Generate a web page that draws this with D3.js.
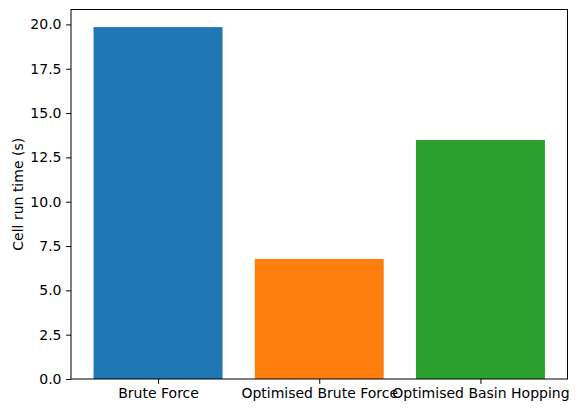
<!DOCTYPE html>
<html>
<head>
<meta charset="utf-8">
<script src="https://cdn.jsdelivr.net/npm/d3@7"></script>
<style>
  body { margin: 0; background: #fff; }
  svg text { font-family: "DejaVu Sans", sans-serif; fill: #000; }
</style>
</head>
<body>
<svg width="579" height="413"></svg>
<script>
// chart data
var categories = ["Brute Force", "Optimised Brute Force", "Optimised Basin Hopping"];
var runTimes = [19.85, 6.77, 13.48];
var barColours = ["#1f77b4", "#ff7f0e", "#2ca02c"];
var yTicks = [0, 2.5, 5, 7.5, 10, 12.5, 15, 17.5, 20];

var svg = d3.select("svg");
var plotLeft = 71, plotRight = 567.5, plotTop = 9.5, plotBottom = 379;
var fontSize = 14;

// matplotlib style margins: bars span -0.4..2.4, 5% padding
var x = d3.scaleLinear().domain([-0.54, 2.54]).range([plotLeft, plotRight]);
var y = d3.scaleLinear().domain([0, d3.max(runTimes) * 1.05]).range([plotBottom, plotTop]);

// bars
svg.append("g")
  .selectAll("rect")
  .data(runTimes)
  .enter().append("rect")
  .attr("x", (d, i) => x(i - 0.4))
  .attr("width", (d, i) => x(i + 0.4) - x(i - 0.4))
  .attr("y", d => y(d))
  .attr("height", d => y(0) - y(d))
  .attr("fill", (d, i) => barColours[i]);

// y axis
var yAxis = d3.axisLeft(y)
  .tickValues(yTicks)
  .tickFormat(d3.format(".1f"))
  .tickSize(4.9)
  .tickPadding(4.6);
var gy = svg.append("g")
  .attr("transform", "translate(" + plotLeft + ",0)")
  .call(yAxis);
gy.select(".domain").remove();
gy.selectAll("line").attr("stroke", "#000").attr("stroke-width", 1);
gy.selectAll("text").attr("font-size", fontSize).attr("font-family", "DejaVu Sans").attr("fill", "#000");

// x axis
var xAxis = d3.axisBottom(x)
  .tickValues([0, 1, 2])
  .tickFormat(i => categories[i])
  .tickSize(4.9)
  .tickPadding(4.6);
var gx = svg.append("g")
  .attr("transform", "translate(0," + plotBottom + ")")
  .call(xAxis);
gx.select(".domain").remove();
gx.selectAll("line").attr("stroke", "#000").attr("stroke-width", 1);
gx.selectAll("text").attr("font-size", fontSize).attr("font-family", "DejaVu Sans").attr("fill", "#000");

// frame
svg.append("rect")
  .attr("x", plotLeft)
  .attr("y", plotTop)
  .attr("width", plotRight - plotLeft)
  .attr("height", plotBottom - plotTop)
  .attr("fill", "none")
  .attr("stroke", "#000")
  .attr("stroke-width", 1);

// y label
svg.append("text")
  .attr("transform", "translate(23," + ((plotTop + plotBottom) / 2) + ") rotate(-90)")
  .attr("text-anchor", "middle")
  .attr("font-size", fontSize)
  .text("Cell run time (s)");
</script>
</body>
</html>
